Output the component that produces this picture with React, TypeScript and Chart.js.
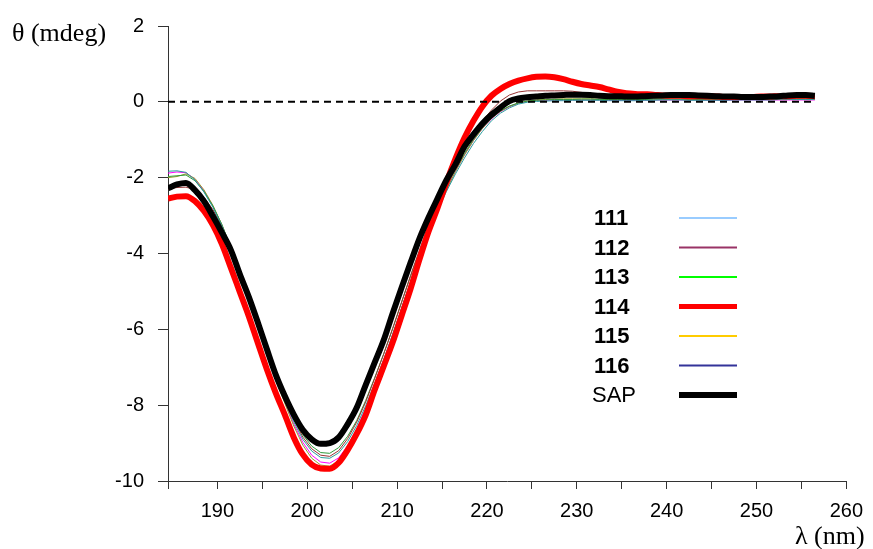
import { useEffect, useRef } from 'react';
import { Chart, registerables } from 'chart.js';

Chart.register(...registerables);

// Wavelength grid (nm)
const wavelengths = [
  184.5, 185.5, 186.5, 187.5, 188.5, 189.5, 190.5, 191.5, 192.5, 193.5,
  194.5, 195.5, 196.5, 197.5, 198.5, 199.5, 200.5, 201.5, 202.5, 203.5,
  204.5, 205.5, 206.5, 207.5, 208.5, 209.5, 210.5, 211.5, 212.5, 213.5,
  214.5, 215.5, 216.5, 217.5, 218.5, 219.5, 220.5, 221.5, 222.5, 223.5,
  224.5, 225.5, 226.5, 227.5, 228.5, 229.5, 230.5, 231.5, 232.5, 233.5,
  234.5, 235.5, 236.5, 237.5, 238.5, 239.5, 240.5, 241.5, 242.5, 243.5,
  244.5, 245.5, 246.5, 247.5, 248.5, 249.5, 250.5, 251.5, 252.5, 253.5,
  254.5, 255.5, 256.5,
];

// Ellipticity (mdeg) per sample
const cd111 = [
  -1.83, -1.82, -1.86, -2.06, -2.38, -2.78, -3.27, -3.86, -4.5, -5.16,
  -5.86, -6.57, -7.28, -7.88, -8.44, -8.9, -9.21, -9.38, -9.4, -9.26,
  -8.96, -8.54, -8.02, -7.42, -6.8, -6.13, -5.44, -4.74, -4.07, -3.45,
  -2.88, -2.36, -1.9, -1.48, -1.1, -0.78, -0.5, -0.3, -0.16, -0.06,
  -0.01, 0.01, 0.02, 0.03, 0.03, 0.04, 0.04, 0.04, 0.04, 0.03,
  0.03, 0.03, 0.03, 0.04, 0.04, 0.05, 0.05, 0.05, 0.04, 0.04,
  0.04, 0.04, 0.04, 0.05, 0.05, 0.05, 0.05, 0.05, 0.06, 0.06,
  0.06, 0.06, 0.06,
];
const cd112 = [
  -2.3, -2.26, -2.25, -2.32, -2.52, -2.84, -3.28, -3.86, -4.5, -5.15,
  -5.84, -6.54, -7.23, -7.83, -8.38, -8.84, -9.15, -9.32, -9.35, -9.2,
  -8.88, -8.45, -7.92, -7.3, -6.66, -5.98, -5.28, -4.58, -3.9, -3.27,
  -2.68, -2.14, -1.65, -1.2, -0.82, -0.5, -0.22, 0.02, 0.18, 0.26,
  0.29, 0.29, 0.29, 0.29, 0.29, 0.28, 0.25, 0.22, 0.19, 0.17,
  0.16, 0.15, 0.15, 0.15, 0.16, 0.16, 0.16, 0.16, 0.15, 0.15,
  0.14, 0.14, 0.13, 0.13, 0.13, 0.13, 0.13, 0.14, 0.14, 0.15,
  0.15, 0.15, 0.14,
];
const cd113 = [
  -1.97, -1.95, -1.93, -2.08, -2.36, -2.75, -3.24, -3.84, -4.48, -5.13,
  -5.82, -6.51, -7.2, -7.8, -8.34, -8.78, -9.08, -9.25, -9.27, -9.12,
  -8.82, -8.41, -7.88, -7.28, -6.65, -5.99, -5.29, -4.6, -3.94, -3.32,
  -2.76, -2.24, -1.78, -1.36, -0.99, -0.68, -0.43, -0.24, -0.11, -0.03,
  0.02, 0.04, 0.05, 0.06, 0.06, 0.06, 0.07, 0.07, 0.06, 0.06,
  0.06, 0.06, 0.06, 0.06, 0.07, 0.07, 0.07, 0.07, 0.07, 0.06,
  0.06, 0.06, 0.06, 0.06, 0.07, 0.07, 0.07, 0.07, 0.08, 0.08,
  0.08, 0.08, 0.08,
];
const cd114 = [
  -2.55, -2.5, -2.49, -2.62, -2.88, -3.25, -3.75, -4.38, -5.02, -5.66,
  -6.36, -7.05, -7.68, -8.25, -8.85, -9.3, -9.57, -9.67, -9.68, -9.52,
  -9.18, -8.76, -8.26, -7.6, -6.98, -6.35, -5.64, -4.93, -4.15, -3.42,
  -2.8, -2.12, -1.5, -0.95, -0.5, -0.12, 0.16, 0.34, 0.47, 0.56,
  0.62, 0.66, 0.67, 0.65, 0.6, 0.53, 0.47, 0.43, 0.39, 0.33,
  0.27, 0.23, 0.21, 0.2, 0.19, 0.17, 0.16, 0.16, 0.15, 0.15,
  0.14, 0.14, 0.13, 0.13, 0.13, 0.13, 0.14, 0.14, 0.15, 0.15,
  0.16, 0.16, 0.15,
];
const cd115 = [
  -2.0, -1.97, -1.9, -2.02, -2.32, -2.73, -3.24, -3.85, -4.52, -5.18,
  -5.9, -6.62, -7.33, -7.95, -8.55, -9.05, -9.4, -9.58, -9.61, -9.46,
  -9.14, -8.7, -8.15, -7.52, -6.87, -6.18, -5.47, -4.76, -4.08, -3.44,
  -2.86, -2.32, -1.84, -1.4, -1.02, -0.7, -0.44, -0.25, -0.12, -0.03,
  0.02, 0.05, 0.06, 0.07, 0.08, 0.08, 0.08, 0.08, 0.07, 0.07,
  0.07, 0.07, 0.07, 0.07, 0.08, 0.08, 0.08, 0.07, 0.07, 0.07,
  0.07, 0.07, 0.07, 0.07, 0.08, 0.08, 0.08, 0.08, 0.08, 0.08,
  0.08, 0.08, 0.08,
];
const cd116 = [
  -1.88, -1.85, -1.87, -2.04, -2.34, -2.75, -3.25, -3.86, -4.51, -5.17,
  -5.88, -6.6, -7.3, -7.92, -8.5, -8.98, -9.32, -9.5, -9.53, -9.39,
  -9.07, -8.63, -8.09, -7.47, -6.83, -6.15, -5.45, -4.75, -4.07, -3.43,
  -2.85, -2.31, -1.83, -1.4, -1.02, -0.7, -0.45, -0.26, -0.13, -0.04,
  0.01, 0.03, 0.04, 0.05, 0.05, 0.05, 0.05, 0.05, 0.05, 0.04,
  0.04, 0.04, 0.04, 0.04, 0.05, 0.05, 0.05, 0.05, 0.05, 0.05,
  0.04, 0.04, 0.04, 0.05, 0.05, 0.05, 0.05, 0.05, 0.05, 0.05,
  0.05, 0.05, 0.05,
];
const cdSAP = [
  -2.28, -2.18, -2.14, -2.33, -2.62, -3.02, -3.45, -3.91, -4.55, -5.15,
  -5.82, -6.52, -7.2, -7.76, -8.25, -8.65, -8.9, -9.02, -9.0, -8.85,
  -8.5, -8.07, -7.47, -6.88, -6.29, -5.58, -4.9, -4.24, -3.6, -3.05,
  -2.55, -2.06, -1.65, -1.18, -0.86, -0.57, -0.34, -0.15, 0.02, 0.09,
  0.12, 0.14, 0.16, 0.17, 0.18, 0.19, 0.19, 0.18, 0.16, 0.15,
  0.15, 0.14, 0.14, 0.15, 0.16, 0.17, 0.18, 0.18, 0.18, 0.17,
  0.16, 0.15, 0.14, 0.14, 0.13, 0.13, 0.13, 0.14, 0.15, 0.17,
  0.18, 0.18, 0.16,
];

const baseline = 0;

// Axis ticks
const xTickValues = [184.5, 190, 195, 200, 205, 210, 215, 220, 225, 230, 235, 240, 245, 250, 255, 260];
const xLabelValues = [190, 200, 210, 220, 230, 240, 250, 260];
const yTickValues = [-10, -8, -6, -4, -2, 0, 2];

// Key drawn at the right of the plot
const legendLabels = ['111', '112', '113', '114', '115', '116', 'SAP'];
const legendColors = ['#99ccff', '#993366', '#00ff00', '#ff0000', '#ffcc00', '#333399', '#000000'];
const legendWidths = [2, 2, 2, 5, 2, 2, 6];
const legendBold = [true, true, true, true, true, true, false];

const toPoints = (ys: number[]) => wavelengths.map((x, i) => ({ x, y: ys[i] }));

const keyPlugin = {
  id: 'cdKey',
  afterDraw(chart: Chart) {
    const ctx = chart.ctx;
    ctx.save();
    // axis titles
    ctx.fillStyle = '#000';
    ctx.font = '26px "Liberation Serif", "Times New Roman", serif';
    ctx.textBaseline = 'middle';
    ctx.textAlign = 'left';
    ctx.fillText('θ (mdeg)', 12, 34);
    ctx.fillText('λ (nm)', 795, 537);

    // legend
    legendLabels.forEach((label, i) => {
      const y = 218 + i * 29.5;
      ctx.font = `${legendBold[i] ? 'bold ' : ''}22px "Liberation Sans", Arial, sans-serif`;
      ctx.fillStyle = '#000';
      ctx.textBaseline = 'middle';
      ctx.fillText(label, legendBold[i] ? 594 : 592, y + 1);
      ctx.strokeStyle = legendColors[i];
      ctx.lineWidth = legendWidths[i];
      ctx.beginPath();
      ctx.moveTo(679, y);
      ctx.lineTo(737, y);
      ctx.stroke();
    });
    ctx.restore();
  },
};

export default function App() {
  const canvasRef = useRef<HTMLCanvasElement | null>(null);

  useEffect(() => {
    if (!canvasRef.current) return;
    const thin = (label: string, data: number[], color: string, order: number) => ({
      label,
      data: toPoints(data),
      borderColor: color,
      borderWidth: 1,
      pointRadius: 0,
      tension: 0,
      order,
    });
    const chart = new Chart(canvasRef.current, {
      type: 'line',
      data: {
        datasets: [
          {
            label: 'zero',
            data: [
              { x: wavelengths[0], y: baseline },
              { x: wavelengths[wavelengths.length - 1], y: baseline },
            ],
            borderColor: '#000',
            borderWidth: 2,
            borderDash: [7, 5],
            pointRadius: 0,
            order: 0,
          },
          {
            label: 'SAP',
            data: toPoints(cdSAP),
            borderColor: '#000000',
            borderWidth: 6,
            pointRadius: 0,
            cubicInterpolationMode: 'monotone',
            order: 1,
          },
          {
            label: '114',
            data: toPoints(cd114),
            borderColor: '#ff0000',
            borderWidth: 6,
            pointRadius: 0,
            cubicInterpolationMode: 'monotone',
            order: 2,
          },
          thin('111', cd111, '#2a9d9d', 3),
          thin('112', cd112, '#993333', 4),
          thin('113', cd113, '#2e9a3a', 5),
          thin('115', cd115, '#9a9a2a', 6),
          thin('116', cd116, '#ff00ff', 7),
        ],
      },
      options: {
        responsive: false,
        animation: false,
        layout: { padding: { top: 19, right: 21, left: 0, bottom: 0 } },
        plugins: {
          legend: { display: false },
          tooltip: { enabled: false },
        },
        scales: {
          x: {
            type: 'linear',
            min: 184.5,
            max: 260,
            afterBuildTicks: (scale: any) => {
              scale.ticks = xTickValues.map((v) => ({ value: v }));
            },
            afterFit: (scale: any) => {
              scale.height = 68;
            },
            ticks: {
              autoSkip: false,
              maxRotation: 0,
              color: '#000',
              padding: 10,
              font: { family: '"Liberation Sans", Arial, sans-serif', size: 20 },
              callback: (v: any) => (xLabelValues.includes(Number(v)) ? String(v) : ''),
            },
            grid: { drawOnChartArea: false, drawTicks: true, tickLength: 8, color: '#333' },
            border: { color: '#333', width: 1 },
          },
          y: {
            type: 'linear',
            min: -10,
            max: 2,
            afterBuildTicks: (scale: any) => {
              scale.ticks = yTickValues.map((v) => ({ value: v }));
            },
            afterFit: (scale: any) => {
              scale.width = 168;
            },
            ticks: {
              color: '#000',
              padding: 14,
              font: { family: '"Liberation Sans", Arial, sans-serif', size: 20 },
              callback: (v: any) => String(v),
            },
            grid: { drawOnChartArea: false, drawTicks: true, tickLength: 10, color: '#333' },
            border: { color: '#333', width: 1 },
          },
        },
      },
      plugins: [keyPlugin],
    });
    return () => chart.destroy();
  }, []);

  return (
    <div style={{ position: 'absolute', left: 0, top: 0, width: 873, height: 549, background: '#fff' }}>
      <canvas ref={canvasRef} width={873} height={549} />
    </div>
  );
}
